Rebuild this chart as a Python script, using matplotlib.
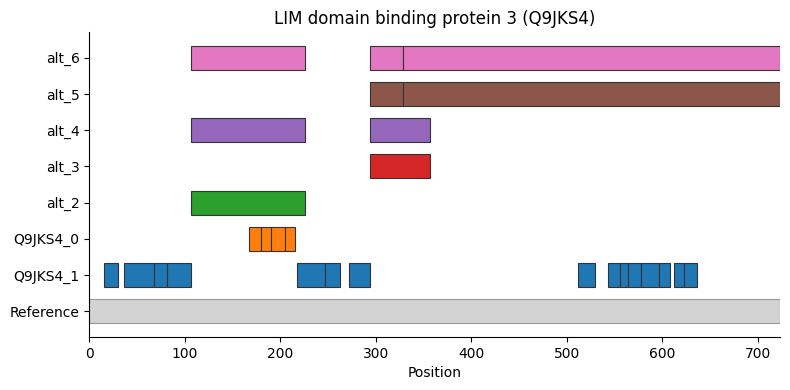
import matplotlib

matplotlib.use("Agg")

import matplotlib.pyplot as plt

PROTEIN_LENGTH = 723

# Lignes de bas en haut, avec leurs segments (début, fin).
TRACK_NAMES = ["Reference", "Q9JKS4_1", "Q9JKS4_0", "alt_2", "alt_3", "alt_4", "alt_5", "alt_6"]
REFERENCE_SEGMENTS = [(0, 723)]
Q9JKS4_1_SEGMENTS = [
    (15, 30), (36, 68), (68, 81), (81, 107), (218, 247), (247, 263), (272, 294),
    (512, 530), (543, 556), (556, 564), (564, 578), (578, 597), (597, 608),
    (612, 623), (623, 636),
]
Q9JKS4_0_SEGMENTS = [(167, 180), (180, 190), (190, 205), (205, 215)]
ALT_2_SEGMENTS = [(107, 226)]
ALT_3_SEGMENTS = [(294, 357)]
ALT_4_SEGMENTS = [(107, 226), (294, 357)]
ALT_5_SEGMENTS = [(294, 328), (328, 723)]
ALT_6_SEGMENTS = [(107, 226), (294, 328), (328, 723)]

TRACK_SEGMENTS = [
    REFERENCE_SEGMENTS, Q9JKS4_1_SEGMENTS, Q9JKS4_0_SEGMENTS, ALT_2_SEGMENTS,
    ALT_3_SEGMENTS, ALT_4_SEGMENTS, ALT_5_SEGMENTS, ALT_6_SEGMENTS,
]
TRACK_COLORS = [
    "lightgrey", "tab:blue", "tab:orange", "tab:green",
    "tab:red", "tab:purple", "tab:brown", "tab:pink",
]

fig = plt.figure(figsize=(7.9, 3.9), dpi=100)
ax = fig.add_axes([0.113, 0.136, 0.874, 0.782])

for row, (segments, color) in enumerate(zip(TRACK_SEGMENTS, TRACK_COLORS)):
    edge = "#999999" if row == 0 else "#333333"
    for start, end in segments:
        ax.barh(row, end - start, left=start, height=0.66, color=color,
                edgecolor=edge, linewidth=0.8)

ax.set_yticks(range(len(TRACK_NAMES)))
ax.set_yticklabels(TRACK_NAMES)
ax.set_xlim(0, PROTEIN_LENGTH)
ax.set_xlabel("Position")
ax.set_title("LIM domain binding protein 3 (Q9JKS4)")
ax.spines["top"].set_visible(False)
ax.spines["right"].set_visible(False)

fig.savefig("out.png", dpi=100)
